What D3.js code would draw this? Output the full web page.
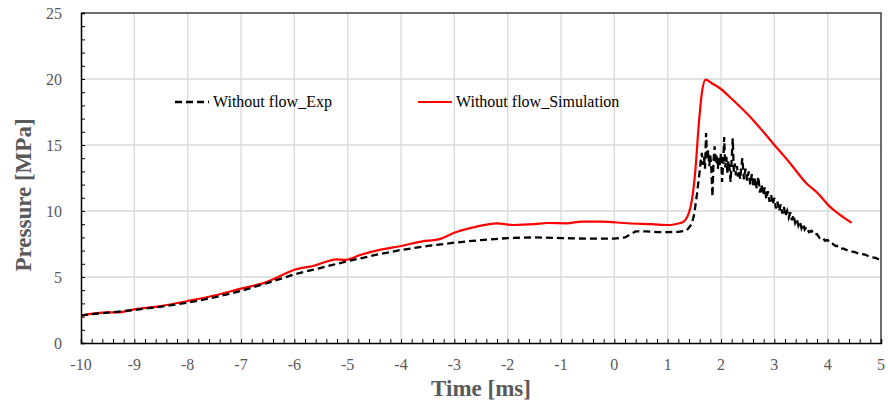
<!DOCTYPE html>
<html>
<head>
<meta charset="utf-8">
<script src="https://cdn.jsdelivr.net/npm/d3@7/dist/d3.min.js"></script>
<style>
  html, body { margin: 0; padding: 0; background: #fff; }
  svg { display: block; }
  text { font-family: "Liberation Serif", "Times New Roman", serif; }
</style>
</head>
<body>
<svg id="chart" width="888" height="405"></svg>
<script>
// Measured pressure, no flow (experiment)
const expTime = [
  -10, -9.5, -9, -8.5, -8, -7.5, -7, -6.5, -6, -5.5, -5, -4.5, -4, -3.5, -3, -2.5, -2, -1.5, -1, -0.5,
  0, 0.2, 0.4, 0.6, 0.8, 1.0, 1.2, 1.35, 1.45, 1.5, 1.55,
  1.60, 1.62, 1.64, 1.66, 1.68, 1.70, 1.72, 1.74, 1.76, 1.78, 1.80, 1.82, 1.84, 1.86, 1.88, 1.90,
  1.92, 1.94, 1.96, 1.98, 2.00, 2.02, 2.04, 2.06, 2.08, 2.10, 2.12, 2.14, 2.16, 2.18, 2.20, 2.22,
  2.24, 2.26, 2.28, 2.30, 2.32, 2.34, 2.36, 2.38,
  2.40, 2.43, 2.46, 2.49, 2.52, 2.55, 2.58, 2.61, 2.64, 2.67, 2.70, 2.73, 2.76, 2.79, 2.82, 2.85,
  2.88, 2.91, 2.94, 2.97, 3.00, 3.03, 3.06, 3.09, 3.12, 3.15, 3.18, 3.21, 3.24, 3.27, 3.30, 3.33,
  3.36, 3.39, 3.42, 3.45, 3.48, 3.51, 3.54, 3.57, 3.60, 3.65, 3.70, 3.75, 3.80,
  3.85, 3.90, 3.95, 4.00, 4.05, 4.10, 4.15, 4.20, 4.25, 4.30, 4.40, 4.50, 4.60, 4.70, 4.80, 4.90, 5.00
];
const expPressure = [
  2.1, 2.3, 2.5, 2.75, 3.05, 3.45, 3.95, 4.55, 5.2, 5.7, 6.2, 6.65, 7.05, 7.35, 7.6, 7.8, 7.95, 8.0, 7.95, 7.9,
  7.9, 8.0, 8.45, 8.45, 8.4, 8.4, 8.42, 8.5, 9.0, 9.8, 11.3,
  13.0, 13.8, 14.4, 13.5, 14.1, 13.2, 15.9, 13.9, 14.6, 13.4, 14.2, 13.1, 11.1, 13.8, 14.9, 13.6,
  14.3, 13.2, 14.0, 13.5, 14.4, 12.2, 13.6, 15.6, 13.3, 14.1, 12.9, 13.8, 13.2, 12.2, 13.9, 15.5,
  13.0, 13.6, 12.7, 13.4, 12.6, 13.1, 12.4, 13.3,
  14.0, 12.4, 13.2, 12.3, 13.0, 12.0, 12.8, 11.8, 12.5, 11.7, 12.6, 11.4, 12.0, 11.2, 11.8, 10.9,
  11.5, 10.7, 11.2, 10.5, 11.0, 10.2, 10.7, 10.0, 10.5, 9.8, 10.3, 9.6, 10.0, 9.5, 9.9, 9.3,
  9.7, 9.1, 9.4, 8.9, 9.2, 8.7, 9.0, 8.6, 8.8, 8.4, 8.5, 8.2, 8.25,
  7.95, 8.0, 7.75, 7.8, 7.55, 7.5, 7.35, 7.35, 7.15, 7.15, 6.95, 6.9, 6.75, 6.7, 6.5, 6.45, 6.25
];

// Simulated pressure, no flow
const simTime = [
  -10, -9.5, -9.3, -9, -8.5, -8, -7.5, -7, -6.5, -6.25, -6, -5.65, -5.2, -5.05, -4.75, -4.4, -4,
  -3.6, -3.3, -2.95, -2.6, -2.2, -1.9, -1.5, -1.25, -0.9, -0.6, -0.25, 0.25, 0.7, 1.05, 1.2, 1.3,
  1.43, 1.52, 1.58, 1.64, 1.71, 1.82, 1.98, 2.2, 2.6, 2.98, 3.3, 3.6, 3.8, 4.04, 4.2, 4.45
];
const simPressure = [
  2.07, 2.32, 2.32, 2.55, 2.8, 3.18, 3.6, 4.12, 4.65, 5.1, 5.55, 5.83, 6.34, 6.3, 6.69, 7.05, 7.35,
  7.7, 7.85, 8.43, 8.8, 9.07, 8.94, 9.0, 9.09, 9.07, 9.2, 9.2, 9.07, 9.0, 8.94, 9.05, 9.2,
  10.33, 13.1, 16.4, 18.9, 19.95, 19.7, 19.3, 18.5, 16.9, 15.1, 13.6, 12.1, 11.4, 10.33, 9.8, 9.1
];

const xTicks = [-10, -9, -8, -7, -6, -5, -4, -3, -2, -1, 0, 1, 2, 3, 4, 5];
const yTicks = [0, 5, 10, 15, 20, 25];
const seriesNames = ["Without flow_Exp", "Without flow_Simulation"];

const svg = d3.select("#chart");
const margin = { left: 81, right: 7, top: 13, bottom: 62 };
const W = 888, H = 405;
const x = d3.scaleLinear().domain([-10, 5]).range([margin.left, W - margin.right]);
const y = d3.scaleLinear().domain([0, 25]).range([H - margin.bottom, margin.top]);

// gridlines
svg.append("g").selectAll("line.vg").data(xTicks.slice(1, -1)).join("line")
  .attr("x1", d => x(d)).attr("x2", d => x(d))
  .attr("y1", y(0)).attr("y2", y(25))
  .attr("stroke", "#d9d9d9").attr("stroke-width", 1.3);
svg.append("g").selectAll("line.hg").data(yTicks.slice(1, -1)).join("line")
  .attr("x1", x(-10)).attr("x2", x(5))
  .attr("y1", d => y(d)).attr("y2", d => y(d))
  .attr("stroke", "#d9d9d9").attr("stroke-width", 1.3);

// plot frame (top and right)
svg.append("path")
  .attr("d", `M${x(-10)},${y(25)}H${x(5)}V${y(0)}`)
  .attr("fill", "none").attr("stroke", "#404040").attr("stroke-width", 1.5);

// axes with inward minor ticks
const xMinor = d3.range(-10, 5.001, 0.2);
const yMinor = d3.range(0, 25.001, 1);
const xAxis = d3.axisBottom(x).tickValues(xMinor).tickSize(-4).tickFormat("");
const yAxis = d3.axisLeft(y).tickValues(yMinor).tickSize(-4).tickFormat("");
const gx = svg.append("g").attr("transform", `translate(0,${y(0)})`).call(xAxis);
const gy = svg.append("g").attr("transform", `translate(${x(-10)},0)`).call(yAxis);
[gx, gy].forEach(g => {
  g.select(".domain").attr("stroke", "#000").attr("stroke-width", 1.5);
  g.selectAll(".tick line").attr("stroke", "#000").attr("stroke-width", 1);
});

// tick labels
svg.append("g").selectAll("text").data(xTicks).join("text")
  .attr("x", d => x(d)).attr("y", y(0) + 27)
  .attr("text-anchor", "middle")
  .attr("font-size", 16).attr("fill", "#595959")
  .text(d => d);
svg.append("g").selectAll("text").data(yTicks).join("text")
  .attr("x", x(-10) - 19).attr("y", d => y(d) + 5.5)
  .attr("text-anchor", "end")
  .attr("font-size", 16).attr("fill", "#595959")
  .text(d => d);

// axis titles
svg.append("text")
  .attr("x", (x(-10) + x(5)) / 2).attr("y", 396)
  .attr("text-anchor", "middle")
  .attr("font-size", 23).attr("font-weight", "bold").attr("fill", "#595959")
  .text("Time [ms]");
svg.append("text")
  .attr("transform", `translate(31,195) rotate(-90)`)
  .attr("text-anchor", "middle")
  .attr("font-size", 23).attr("font-weight", "bold").attr("fill", "#595959")
  .text("Pressure [MPa]");

// series
const expData = expTime.map((t, i) => [t, expPressure[i]]);
const simData = simTime.map((t, i) => [t, simPressure[i]]);

svg.append("path").datum(simData)
  .attr("d", d3.line().x(d => x(d[0])).y(d => y(d[1])).curve(d3.curveMonotoneX))
  .attr("fill", "none").attr("stroke", "#ff0000").attr("stroke-width", 2.2);

svg.append("path").datum(expData)
  .attr("d", d3.line().x(d => x(d[0])).y(d => y(d[1])))
  .attr("fill", "none").attr("stroke", "#000").attr("stroke-width", 2.3)
  .attr("stroke-dasharray", "7,4");

// legend
const legend = svg.append("g");
legend.append("line").attr("x1", 175).attr("x2", 209).attr("y1", 102).attr("y2", 102)
  .attr("stroke", "#000").attr("stroke-width", 2.3).attr("stroke-dasharray", "7,4");
legend.append("text").attr("x", 213).attr("y", 107).attr("font-size", 16).attr("fill", "#000")
  .text(seriesNames[0]);
legend.append("line").attr("x1", 418).attr("x2", 452).attr("y1", 102).attr("y2", 102)
  .attr("stroke", "#ff0000").attr("stroke-width", 2.2);
legend.append("text").attr("x", 456).attr("y", 107).attr("font-size", 16).attr("fill", "#000")
  .text(seriesNames[1]);
</script>
</body>
</html>
